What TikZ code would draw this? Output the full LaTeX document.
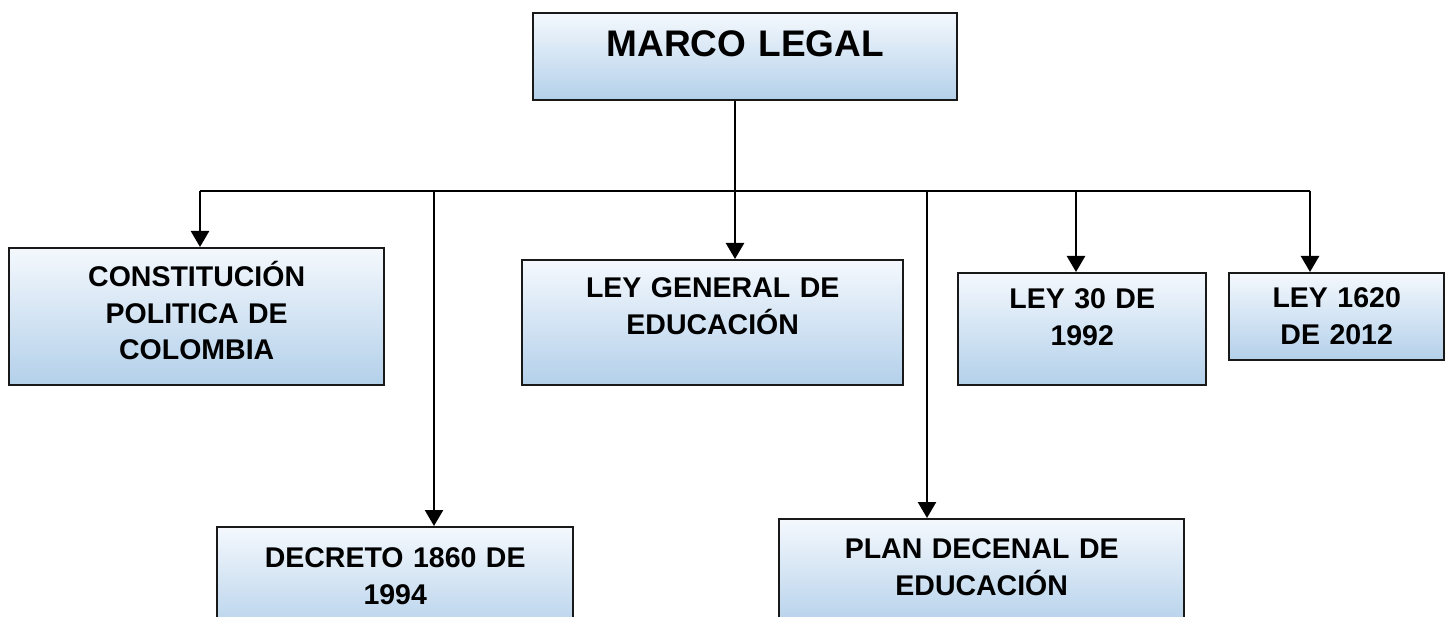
\documentclass[tikz,border=0pt]{standalone}
\usepackage{fontspec}
\setmainfont{Liberation Sans}
\usetikzlibrary{positioning,arrows.meta}

\definecolor{cajaarriba}{HTML}{F4F8FD}
\definecolor{cajaabajo}{HTML}{B3D0EA}

\begin{document}
\begin{tikzpicture}[x = 1pt, y = -1pt,
	caja/.style = {draw = black!90, line width = 2.4pt, top color = cajaarriba, bottom color = cajaabajo, inner sep = 0pt, anchor = north west},
	texto/.style = {align = center, text width = 400pt, inner sep = 0pt, font = \bfseries\fontsize{28.5}{36.5}\selectfont, text height = 20.4pt},
	textotitulo/.style = {texto, font = \bfseries\fontsize{37}{44}\selectfont, text height = 26.5pt},
	linea/.style = {line width = 2.5pt},
	flecha/.style = {line width = 2.5pt, -{Triangle[width = 18pt, length = 16pt]}}]
	\useasboundingbox (0, 0) rectangle (1447, 617);
	\clip (0, 0) rectangle (1447, 617);

	% cajas
	\node[caja, minimum width = 424pt, minimum height = 87pt] (titulo) at (532, 12) {};
	\node[caja, minimum width = 375pt, minimum height = 137pt] (constitucion) at (8, 247) {};
	\node[caja, minimum width = 356pt, minimum height = 110pt] (decreto) at (216, 526) {};
	\node[caja, minimum width = 381pt, minimum height = 125pt] (leygeneral) at (521, 259) {};
	\node[caja, minimum width = 405pt, minimum height = 110pt] (plandecenal) at (778, 518) {};
	\node[caja, minimum width = 248pt, minimum height = 112pt] (ley30) at (957, 272) {};
	\node[caja, minimum width = 215pt, minimum height = 87pt] (ley1620) at (1228, 272) {};

	% textos
	\node[textotitulo, below = 18pt of titulo.north] (titulo-t) {MARCO LEGAL};
	\node[texto, below = 19pt of constitucion.north] (constitucion-t) {CONSTITUCIÓN\\POLITICA DE\\COLOMBIA};
	\node[texto, below = 21pt of decreto.north] (decreto-t) {DECRETO 1860 DE\\1994};
	\node[texto, below = 18pt of leygeneral.north] (leygeneral-t) {LEY GENERAL DE\\EDUCACIÓN};
	\node[texto, below = 20pt of plandecenal.north] (plandecenal-t) {PLAN DECENAL DE\\EDUCACIÓN};
	\node[texto, below = 16pt of ley30.north] (ley30-t) {LEY 30 DE\\1992};
	\node[texto, below = 15pt of ley1620.north] (ley1620-t) {LEY 1620\\DE 2012};

	% conectores
	\coordinate (b1) at (200, 191);
	\coordinate (b2) at (434, 191);
	\coordinate (b3) at (735, 191);
	\coordinate (b4) at (927, 191);
	\coordinate (b5) at (1076, 191);
	\coordinate (b6) at (1310, 191);

	\draw[linea] (b1) -- (b6);
	\draw[flecha] (titulo.south -| b3) -- (leygeneral.north -| b3);
	\draw[flecha] (b1) -- (constitucion.north -| b1);
	\draw[flecha] (b2) -- (decreto.north -| b2);
	\draw[flecha] (b4) -- (plandecenal.north -| b4);
	\draw[flecha] (b5) -- (ley30.north -| b5);
	\draw[flecha] (b6) -- (ley1620.north -| b6);
\end{tikzpicture}
\end{document}
